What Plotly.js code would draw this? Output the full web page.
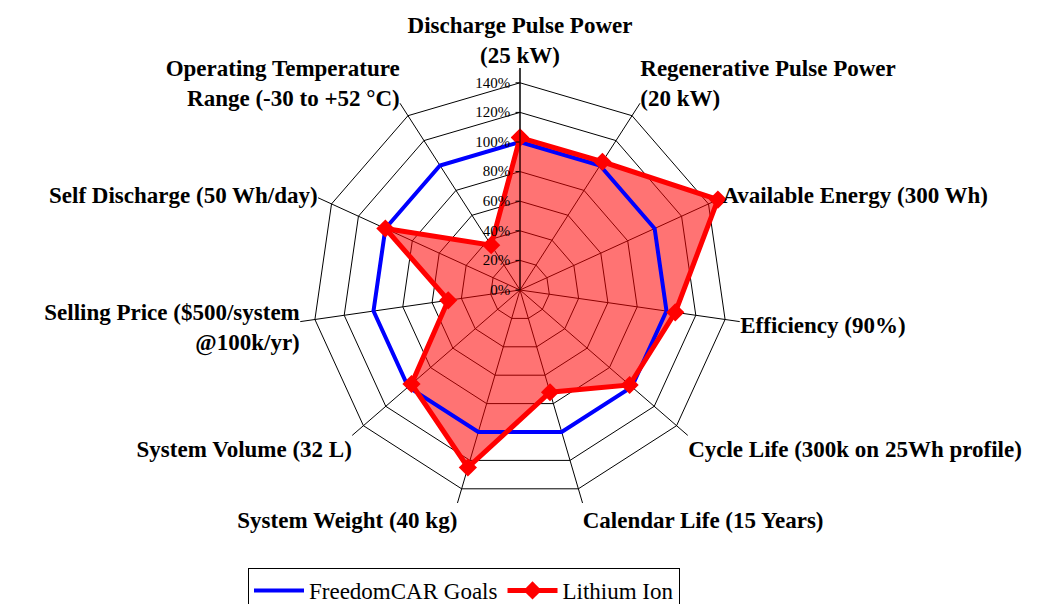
<!DOCTYPE html>
<html>
<head>
<meta charset="utf-8">
<script src="https://cdn.plot.ly/plotly-3.0.1.min.js"></script>
<style>html,body{margin:0;padding:0;background:#fff;}#chart{width:1049px;height:604px;}</style>
</head>
<body>
<div id="chart"></div>
<script>
const categories = [
  "Discharge Pulse Power<br>(25 kW)",
  "Regenerative Pulse Power<br>(20 kW)",
  "Available Energy (300 Wh)",
  "Efficiency (90%)",
  "Cycle Life (300k on 25Wh profile)",
  "Calendar Life (15 Years)",
  "System Weight (40 kg)",
  "System Volume (32 L)",
  "Selling Price ($500/system<br>@100k/yr)",
  "Self Discharge (50 Wh/day)",
  "Operating Temperature<br>Range (-30 to +52 °C)"
];
const freedomCarGoals = [100, 100, 100, 100, 100, 100, 100, 100, 100, 100, 100];
const lithiumIon = [103, 103, 147, 106, 98, 72, 125, 97, 49, 100, 36];
const tickValues = [0, 20, 40, 60, 80, 100, 120, 140];
const tickLabels = ["0%", "20%", "40%", "60%", "80%", "100%", "120%", "140%"];

function closeLoop(a) { return a.concat([a[0]]); }

const traces = [
  {
    type: "scatterpolar",
    name: "Lithium Ion (area)",
    r: closeLoop(lithiumIon),
    theta: closeLoop(categories),
    mode: "lines",
    fill: "toself",
    fillcolor: "rgba(255,0,0,0.55)",
    line: {color: "rgba(255,0,0,0)", width: 0},
    showlegend: false,
    hoverinfo: "skip"
  },
  {
    type: "scatterpolar",
    name: "FreedomCAR Goals",
    r: closeLoop(freedomCarGoals),
    theta: closeLoop(categories),
    mode: "lines",
    line: {color: "#0000ff", width: 4},
    hoverinfo: "skip"
  },
  {
    type: "scatterpolar",
    name: "Lithium Ion",
    r: closeLoop(lithiumIon),
    theta: closeLoop(categories),
    mode: "lines+markers",
    line: {color: "#ff0000", width: 5},
    marker: {symbol: "diamond", size: 14, color: "#ff0000"},
    cliponaxis: false,
    hoverinfo: "skip"
  }
];

const R = 222;
const cx = 520, cy = 290;
const W = 1049, H = 604;
const serif = "Liberation Serif, Times New Roman, serif";

const layout = {
  width: W, height: H,
  margin: {l: 0, r: 0, t: 0, b: 0, autoexpand: false},
  paper_bgcolor: "#ffffff",
  showlegend: true,
  legend: {
    orientation: "h",
    x: 248 / W, xanchor: "left",
    y: (H - 568) / H, yanchor: "top",
    bordercolor: "#000000", borderwidth: 1,
    itemwidth: 50,
    font: {family: serif, size: 23, color: "#000"}
  },
  polar: {
    domain: {
      x: [(cx - R) / W, (cx + R) / W],
      y: [(H - cy - R) / H, (H - cy + R) / H]
    },
    bgcolor: "rgba(0,0,0,0)",
    gridshape: "linear",
    radialaxis: {
      range: [0, 150],
      angle: 90,
      side: "counterclockwise",
      tickvals: tickValues,
      ticktext: tickLabels,
      tickangle: 90,
      ticks: "outside",
      ticklen: 4,
      tickcolor: "#000",
      showline: true,
      linecolor: "#000",
      linewidth: 1,
      gridcolor: "#000",
      gridwidth: 1,
      tickfont: {family: serif, size: 15, color: "#000"}
    },
    angularaxis: {
      direction: "clockwise",
      rotation: 90,
      showline: false,
      gridcolor: "#000",
      gridwidth: 1,
      ticks: "",
      tickfont: {family: serif, size: 23, color: "#000", weight: "bold"}
    }
  }
};

Plotly.newPlot("chart", traces, layout, {staticPlot: true, displayModeBar: false});
</script>
</body>
</html>
